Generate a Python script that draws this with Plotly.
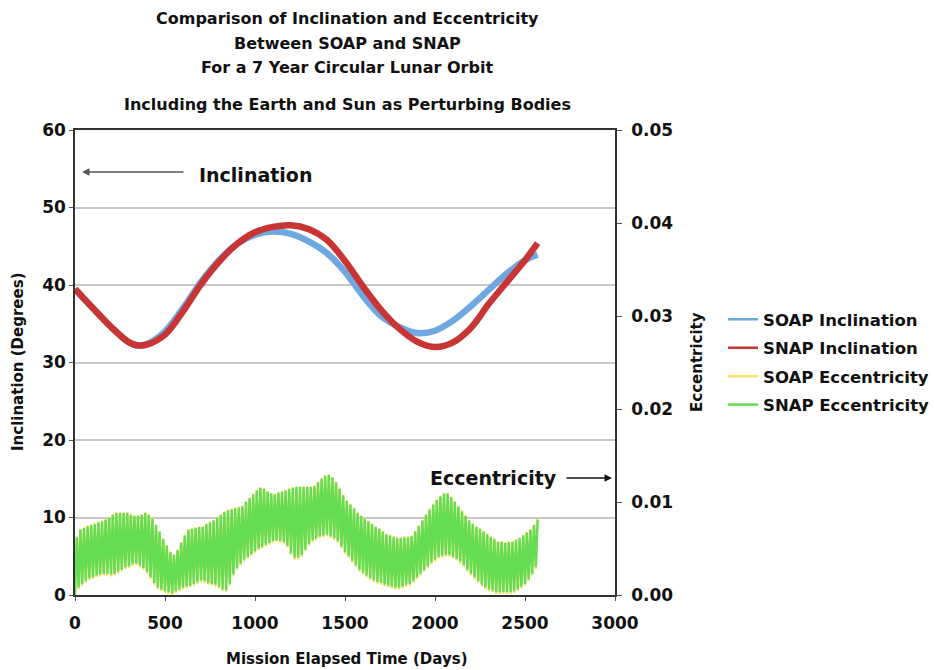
import numpy as np
import plotly.graph_objects as go

# ---- Inclination (degrees), sampled every 100 days of mission time ----
incl_days = [0, 100, 200, 300, 350, 400, 500, 600, 700, 800, 900, 1000, 1100,
             1200, 1300, 1400, 1500, 1600, 1700, 1800, 1900, 2000, 2100, 2200,
             2300, 2400, 2500, 2570]
soap_incl = [39.5, 37.0, 34.6, 32.6, 32.2, 32.4, 34.0, 37.0, 40.4, 43.2, 45.3,
             46.5, 46.9, 46.6, 45.6, 44.1, 41.7, 38.6, 36.0, 34.6, 33.8, 34.1,
             35.4, 37.3, 39.4, 41.5, 43.2, 43.9]
snap_incl = [39.5, 37.0, 34.6, 32.6, 32.2, 32.3, 33.6, 36.6, 40.1, 43.0, 45.3,
             46.8, 47.5, 47.7, 47.2, 45.8, 43.1, 39.8, 36.8, 34.4, 32.7, 32.0,
             32.6, 34.5, 37.6, 40.4, 43.2, 45.4]

# ---- Eccentricity (x 1e-4): minima every 20 days from day 0,
#      maxima every 20 days from day 10 ----
ecc_step = 20
snap_ecc_min = [
    0, 8, 12, 15, 18, 19, 21, 22, 23, 23,
    22, 23, 25, 27, 30, 31, 33, 34, 32, 29,
    25, 19, 13, 8, 6, 4, 3, 2, 4, 6,
    8, 9, 10, 12, 14, 16, 15, 13, 12, 11,
    9, 6, 5, 12, 22, 29, 34, 38, 41, 44,
    47, 50, 52, 54, 56, 58, 59, 58, 57, 53,
    45, 40, 40, 43, 49, 55, 59, 61, 63, 64,
    65, 63, 61, 58, 52, 46, 42, 37, 32, 27,
    24, 21, 18, 16, 14, 13, 11, 10, 9, 8,
    8, 9, 11, 12, 15, 19, 23, 27, 31, 35,
    38, 41, 42, 43, 43, 41, 39, 36, 32, 27,
    23, 19, 15, 11, 8, 6, 5, 3, 3, 3,
    3, 3, 4, 6, 9, 12, 17, 23, 30]
snap_ecc_max = [
    62, 70, 72, 74, 75, 76, 78, 79, 81, 83,
    86, 88, 88, 88, 88, 86, 85, 85, 86, 88,
    86, 82, 75, 68, 60, 53, 46, 43, 48, 56,
    64, 70, 71, 72, 73, 73, 76, 78, 80, 83,
    86, 89, 91, 92, 93, 94, 95, 100, 104, 108,
    112, 115, 114, 111, 109, 108, 110, 111, 112, 114,
    115, 116, 116, 116, 116, 116, 117, 121, 125, 128,
    129, 126, 121, 114, 107, 101, 97, 93, 88, 85,
    82, 79, 76, 73, 71, 68, 65, 64, 62, 61,
    61, 62, 62, 63, 68, 74, 80, 86, 92, 97,
    102, 106, 109, 109, 105, 100, 95, 90, 85, 80,
    76, 73, 71, 68, 65, 62, 60, 57, 57, 56,
    57, 57, 59, 61, 64, 67, 70, 75, 81]
soap_ecc_min = [
    0, 6, 10, 13, 16, 17, 19, 20, 21, 21,
    20, 21, 23, 25, 28, 29, 31, 32, 30, 27,
    23, 17, 11, 6, 4, 2, 1, 0, 2, 4,
    6, 7, 8, 10, 12, 14, 13, 11, 10, 9,
    7, 4, 3, 10, 20, 27, 32, 36, 39, 42,
    45, 48, 50, 52, 54, 56, 57, 56, 55, 51,
    43, 38, 38, 41, 47, 53, 57, 59, 61, 62,
    63, 61, 59, 56, 50, 44, 40, 35, 30, 25,
    22, 19, 16, 14, 12, 11, 9, 8, 7, 6,
    6, 7, 9, 10, 13, 17, 21, 25, 29, 33,
    36, 39, 40, 41, 41, 39, 37, 34, 30, 25,
    21, 17, 13, 9, 6, 4, 3, 1, 1, 1,
    1, 1, 2, 4, 7, 10, 15, 21, 28]
soap_ecc_max = [
    63, 71, 73, 75, 76, 77, 79, 80, 82, 84,
    87, 89, 89, 89, 89, 87, 86, 86, 87, 89,
    87, 83, 76, 69, 61, 54, 47, 44, 49, 57,
    65, 71, 72, 73, 74, 74, 77, 79, 81, 84,
    87, 90, 92, 93, 94, 95, 96, 101, 105, 109,
    113, 116, 115, 112, 110, 109, 111, 112, 113, 115,
    116, 117, 117, 117, 117, 117, 118, 122, 126, 129,
    130, 127, 122, 115, 108, 102, 98, 94, 89, 86,
    83, 80, 77, 74, 72, 69, 66, 65, 63, 62,
    62, 63, 63, 64, 69, 75, 81, 87, 93, 98,
    103, 107, 110, 110, 106, 101, 96, 91, 86, 81,
    77, 74, 72, 69, 66, 63, 61, 58, 58, 57,
    58, 58, 60, 62, 65, 68, 71, 76, 82]

x_ticks = [0, 500, 1000, 1500, 2000, 2500, 3000]


def interleave(lows, highs):
    """Alternate minima and maxima into one time series."""
    days, vals = [], []
    for i, (lo, hi) in enumerate(zip(lows, highs)):
        days += [i * ecc_step, i * ecc_step + ecc_step // 2]
        vals += [lo * 1e-4, hi * 1e-4]
    return days, vals


snap_ecc_days, snap_ecc = interleave(snap_ecc_min, snap_ecc_max)
soap_ecc_days, soap_ecc = interleave(soap_ecc_min, soap_ecc_max)

BLUE = "#6fa8e0"
RED = "#c93434"
YELLOW = "#f6e46a"
GREEN = "#66dc52"
FONT = "DejaVu Sans"

fig = go.Figure()

# data traces (legend handled by the slim entries below)
fig.add_trace(go.Scatter(x=soap_ecc_days, y=soap_ecc, yaxis="y2", mode="lines",
                         line=dict(color=YELLOW, width=2.4), showlegend=False))
fig.add_trace(go.Scatter(x=snap_ecc_days, y=snap_ecc, yaxis="y2", mode="lines",
                         line=dict(color=GREEN, width=2.4), showlegend=False))
fig.add_trace(go.Scatter(x=incl_days, y=soap_incl, mode="lines",
                         line=dict(color=BLUE, width=6.5, shape="spline"),
                         showlegend=False))
fig.add_trace(go.Scatter(x=incl_days, y=snap_incl, mode="lines",
                         line=dict(color=RED, width=6.5, shape="spline"),
                         showlegend=False))

# legend entries, one group each so the rows can be spaced apart
for name, color in [("SOAP Inclination", BLUE), ("SNAP Inclination", RED),
                    ("SOAP Eccentricity", YELLOW), ("SNAP Eccentricity", GREEN)]:
    fig.add_trace(go.Scatter(x=[None], y=[None], mode="lines", name=name,
                             legendgroup=name,
                             line=dict(color=color, width=2.5)))

tick_font = dict(family=FONT, size=17, color="#111", weight="bold")

fig.update_layout(
    width=934, height=670,
    margin=dict(l=75, r=319, t=130, b=75, autoexpand=False),
    paper_bgcolor="white", plot_bgcolor="white",
    font=dict(family=FONT, color="#111"),
    showlegend=True,
    legend=dict(x=1.2, y=0.63, xanchor="left", yanchor="top",
                font=dict(family=FONT, size=16.5, color="#111", weight="bold"),
                tracegroupgap=4, itemwidth=30, bgcolor="rgba(0,0,0,0)"),
    xaxis=dict(range=[0, 3000], tickvals=x_ticks, showgrid=False,
               showline=True, linecolor="#333", linewidth=1.5, mirror=True,
               ticks="outside", ticklen=4, tickcolor="#555",
               ticklabelstandoff=8,
               tickfont=tick_font, zeroline=False),
    yaxis=dict(range=[0, 60], dtick=10, showgrid=True, gridcolor="#c8c8c8",
               gridwidth=1.5, showline=True, linecolor="#333", linewidth=1.5,
               ticks="outside", ticklen=4, tickcolor="#555",
               tickfont=tick_font, zeroline=False),
    yaxis2=dict(range=[0, 0.05], dtick=0.01, tickformat=".2f",
                overlaying="y", side="right", showgrid=False,
                showline=True, linecolor="#333", linewidth=1.5,
                ticks="outside", ticklen=5, tickcolor="#555",
                ticklabelstandoff=6,
                tickfont=tick_font, zeroline=False),
)

title_font = dict(family=FONT, size=16, color="#111", weight="bold")
titles = [("Comparison of Inclination and Eccentricity", 19),
          ("Between SOAP and SNAP", 43),
          ("For a 7 Year Circular Lunar Orbit", 67),
          ("Including the Earth and Sun as Perturbing Bodies", 104)]
for text, py in titles:
    fig.add_annotation(text=text, xref="paper", yref="paper",
                       x=(347 - 75) / 540, y=(595 - py) / 465,
                       xanchor="center", yanchor="middle", showarrow=False,
                       font=title_font)

label_font = dict(family=FONT, size=15, color="#111", weight="bold")
fig.add_annotation(text="Mission Elapsed Time (Days)", xref="paper", yref="paper",
                   x=(347 - 75) / 540, y=(595 - 659) / 465, showarrow=False,
                   xanchor="center", yanchor="middle", font=label_font)
fig.add_annotation(text="Inclination (Degrees)", xref="paper", yref="paper",
                   x=(18 - 75) / 540, y=(595 - 362) / 465, textangle=-90,
                   showarrow=False, xanchor="center", yanchor="middle",
                   font=label_font)
fig.add_annotation(text="Eccentricity", xref="paper", yref="paper",
                   x=(697 - 75) / 540, y=(595 - 362) / 465, textangle=-90,
                   showarrow=False, xanchor="center", yanchor="middle",
                   font=label_font)

big_font = dict(family=FONT, size=19, color="#111", weight="bold")
fig.add_annotation(text="Inclination", xref="paper", yref="paper",
                   x=(255 - 75) / 540, y=(595 - 175) / 465, showarrow=False,
                   xanchor="center", yanchor="middle", font=big_font)
fig.add_annotation(text="", xref="paper", yref="paper",
                   x=(82 - 75) / 540, y=(595 - 172) / 465,
                   ax=103, ay=0, showarrow=True, arrowhead=2, arrowsize=1,
                   arrowwidth=1.5, arrowcolor="#555")
fig.add_annotation(text="Eccentricity", xref="paper", yref="paper",
                   x=(493 - 75) / 540, y=(595 - 478) / 465, showarrow=False,
                   xanchor="center", yanchor="middle", font=big_font)
fig.add_annotation(text="", xref="paper", yref="paper",
                   x=(612 - 75) / 540, y=(595 - 478) / 465,
                   ax=-47, ay=0, showarrow=True, arrowhead=2, arrowsize=1,
                   arrowwidth=1.5, arrowcolor="#111")

fig.write_html("out.html")
